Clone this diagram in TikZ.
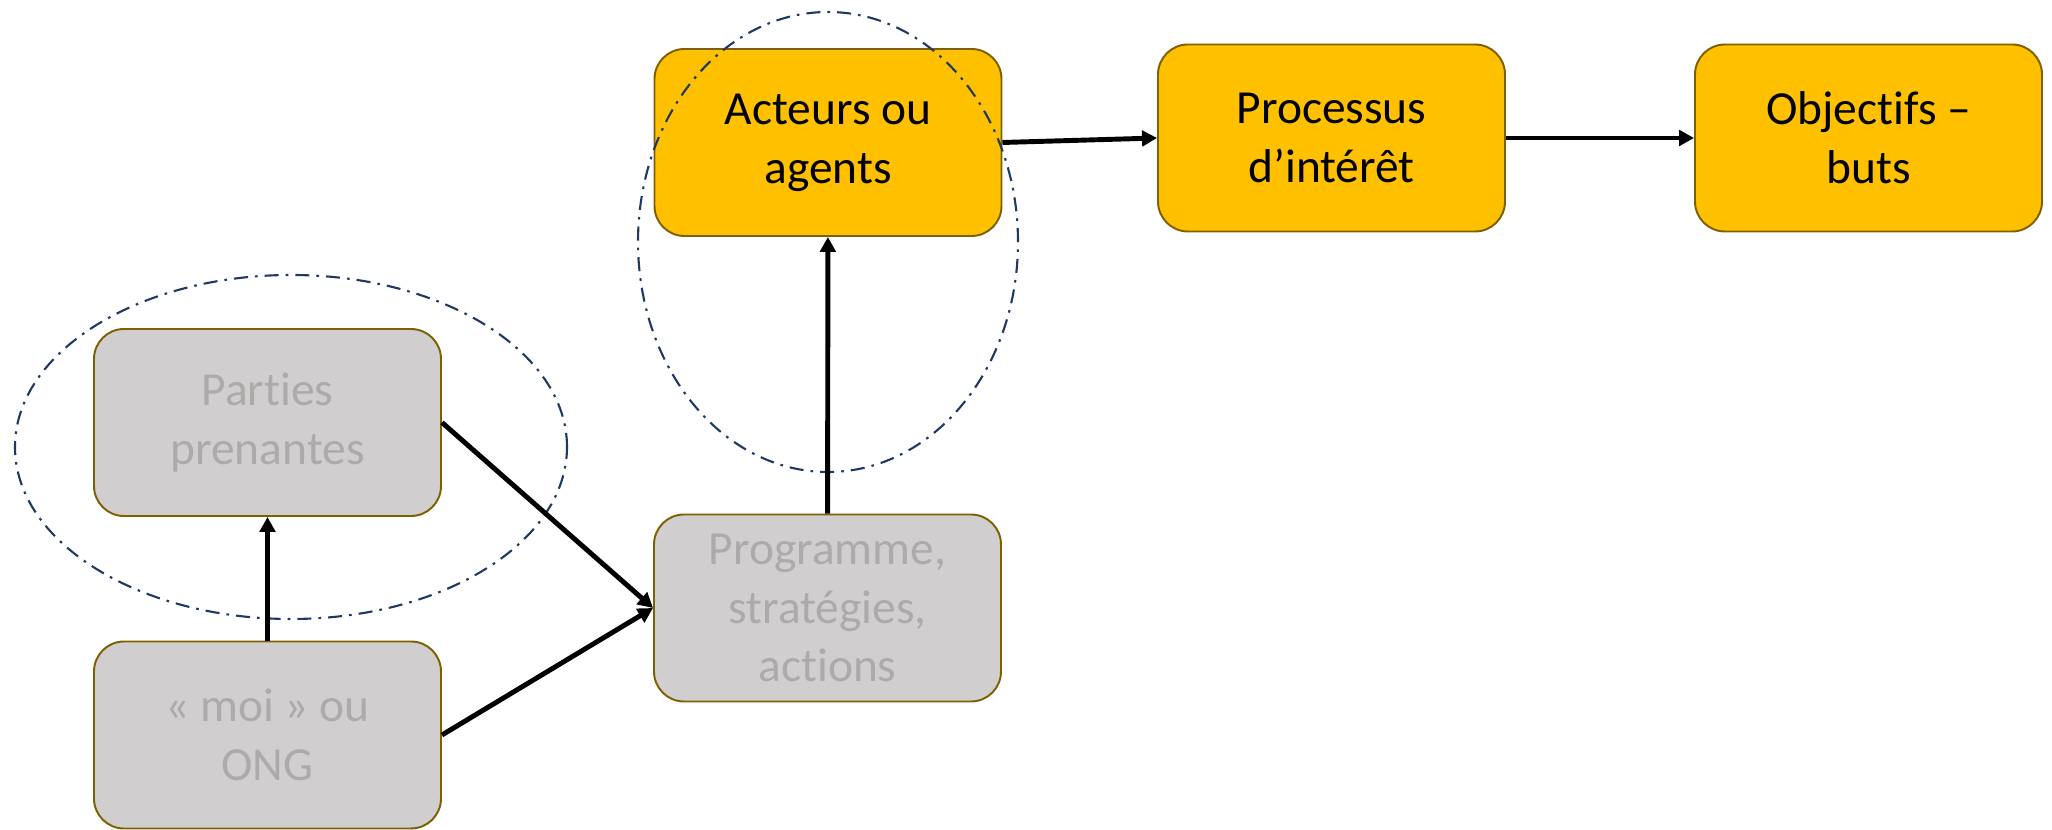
\documentclass[tikz,border=0pt]{standalone}
\usepackage{fontspec}
\setmainfont{Carlito}[RawFeature={-liga,-clig,-calt,-dlig}]
\usetikzlibrary{arrows.meta}
\definecolor{boxgold}{HTML}{FFC000}
\definecolor{boxedge}{HTML}{7F6000}
\definecolor{boxgray}{HTML}{D0CECE}
\definecolor{txtgray}{HTML}{AEAAAA}
\definecolor{navy}{HTML}{203864}

\begin{document}
\begin{tikzpicture}
\useasboundingbox (0,0) rectangle (41.04,16.6);
\begin{scope}[every node/.style={draw=boxedge,line width=1.1pt,rounded corners=0.6cm,
              minimum width=6.94cm,minimum height=3.74cm,align=center,
              font=\fontsize{27}{33.5}\selectfont}]
    \node [fill=boxgold] (Act) at (16.56,13.75) {Acteurs ou\\agents};
    \node [fill=boxgold] (Proc) at (26.63,13.84) {Processus\\d’intérêt};
    \node [fill=boxgold] (Obj) at (37.37,13.84) {Objectifs –\\buts};
    \node [fill=boxgray,text=txtgray] (Part) at (5.35,8.15) {Parties\\prenantes};
    \node [fill=boxgray,text=txtgray] (Moi) at (5.35,1.9) {« moi » ou\\ONG};
    \node [fill=boxgray,text=txtgray] (Prog) at (16.55,4.44) {Programme,\\stratégies,\\actions};
\end{scope}

\begin{scope}[draw=navy,line width=1.2pt,dash pattern=on 8pt off 4pt on 1.5pt off 4pt]
    \draw (16.56,11.76) ellipse [x radius=3.8,y radius=4.6];
    \draw (5.82,7.66) ellipse [x radius=5.52,y radius=3.44];
\end{scope}

\begin{scope}[>={Triangle[black,length=0.3cm,width=0.31cm]},
              every edge/.style={draw=black,line width=2.8pt}]
    \path [->] (Moi) edge (Part);
    \path [->] (Part.east) edge (Prog.west);
    \path [->] (Moi.east) edge (Prog.west);
    \path [->] (Prog) edge (Act);
    \path [->] (Act.east) edge (Proc.west);
    \path [->] (Proc) edge (Obj);
\end{scope}
\end{tikzpicture}
\end{document}
